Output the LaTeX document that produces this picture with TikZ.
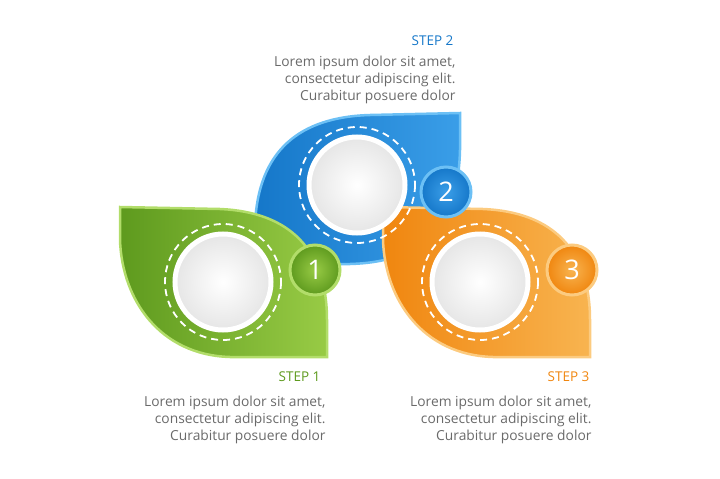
\documentclass[tikz,border=0pt]{standalone}
\usepackage{fontspec}
\setmainfont{Open Sans}
\usetikzlibrary{shadows}
\definecolor{gD}{HTML}{5E9A1E}\definecolor{gL}{HTML}{98CB45}\definecolor{gE}{HTML}{B2DD6A}
\definecolor{bD}{HTML}{1577C9}\definecolor{bL}{HTML}{3A9EE8}\definecolor{bE}{HTML}{6CC0F5}
\definecolor{oD}{HTML}{F0860F}\definecolor{oL}{HTML}{F8B450}\definecolor{oE}{HTML}{FCCB80}
\definecolor{txt}{HTML}{6A6A6A}
\tikzset{
 whitec/.style={circle,draw=white,line width=5pt,inner color=white,outer color=black!10,minimum size=96pt},
 dashc/.style={draw=white,line width=1.8pt,dash pattern=on 7pt off 5pt},
 badge/.style={circle,line width=3pt,minimum size=50pt,text=white,font=\fontsize{27}{27}\selectfont},
 body/.style={text=txt,align=right,font=\fontsize{13.8}{17}\selectfont,anchor=north east},
 head/.style={font=\fontsize{13.5}{14}\selectfont,anchor=south east}
}
\begin{document}
\begin{tikzpicture}[x=1pt,y=-1pt]
\useasboundingbox (0,0) rectangle (720,479);
% blue leaf
\path[draw=bE,line width=2.5pt,left color=bD,right color=bL]
 (460,113) -- (460,150) .. controls (458,230) and (420,262) .. (350,264) -- (255,265) -- (255,225)
 .. controls (258,150) and (300,117) .. (370,115) -- cycle;
% green leaf
\path[draw=gE,line width=2.5pt,left color=gD,right color=gL]
 (120,207) -- (220,209) .. controls (290,212) and (327,250) .. (327,320) -- (327,357) -- (230,357)
 .. controls (160,355) and (122,300) .. (120,240) -- cycle;
% orange leaf
\path[draw=oE,line width=2.5pt,left color=oD,right color=oL]
 (383,207) -- (483,209) .. controls (553,212) and (590,250) .. (590,320) -- (590,357) -- (493,357)
 .. controls (423,355) and (385,300) .. (383,240) -- cycle;
% circles
\draw[dashc] (223,282) circle (58);
\node[whitec] (c1) at (223,282) {};
\draw[dashc] (357,185) circle (58);
\node[whitec] (c2) at (357,185) {};
\draw[dashc] (480,282) circle (58);
\node[whitec] (c3) at (480,282) {};
% badges
\node[badge,draw=gE,inner color=gL,outer color=gD] (n1) at (315,270) {1};
\node[badge,draw=bE,inner color=bL,outer color=bD] (n2) at (446,192) {2};
\node[badge,draw=oE,inner color=oL,outer color=oD] (n3) at (572,270) {3};
% texts
\node[head,text=bD] (h2) at (457,49) {STEP 2};
\node[body] (t2) at (459,52) {Lorem ipsum dolor sit amet,\\consectetur adipiscing elit.\\Curabitur posuere dolor};
\node[head,text=gD] (h1) at (324,385) {STEP 1};
\node[body] (t1) at (329,392) {Lorem ipsum dolor sit amet,\\consectetur adipiscing elit.\\Curabitur posuere dolor};
\node[head,text=oD] (h3) at (593,385) {STEP 3};
\node[body] (t3) at (595,392) {Lorem ipsum dolor sit amet,\\consectetur adipiscing elit.\\Curabitur posuere dolor};
\end{tikzpicture}
\end{document}
